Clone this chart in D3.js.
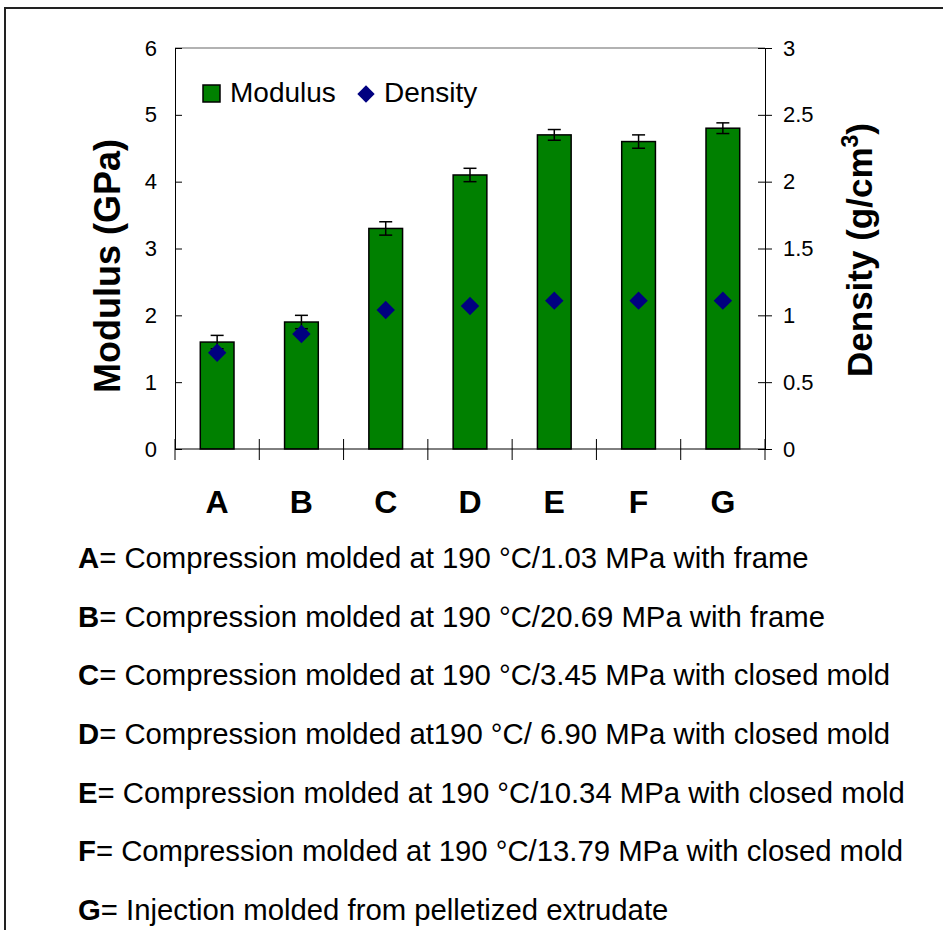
<!DOCTYPE html>
<html>
<head>
<meta charset="utf-8">
<script src="https://cdn.jsdelivr.net/npm/d3@7"></script>
<style>
  body { margin: 0; background: #fff; }
  svg { display: block; font-family: Arial, "Liberation Sans", sans-serif; }
</style>
</head>
<body>
<div id="chart"></div>
<script>
const categories = ['A', 'B', 'C', 'D', 'E', 'F', 'G'];
const modulus = [1.6, 1.9, 3.3, 4.1, 4.7, 4.6, 4.8]; // GPa
const modulusErr = [0.1, 0.1, 0.1, 0.1, 0.08, 0.1, 0.08];
const density = [0.72, 0.86, 1.04, 1.07, 1.11, 1.11, 1.11]; // g/cm3
const leftTicks = [0, 1, 2, 3, 4, 5, 6];
const rightTicks = [0, 0.5, 1, 1.5, 2, 2.5, 3];
const notes = [
    ['A', 'Compression molded at 190 °C/1.03 MPa with frame'],
    ['B', 'Compression molded at 190 °C/20.69 MPa with frame'],
    ['C', 'Compression molded at 190 °C/3.45 MPa with closed mold'],
    ['D', 'Compression molded at190 °C/ 6.90 MPa with closed mold'],
    ['E', 'Compression molded at 190 °C/10.34 MPa with closed mold'],
    ['F', 'Compression molded at 190 °C/13.79 MPa with closed mold'],
    ['G', 'Injection molded from pelletized extrudate']
];

const W = 943, H = 930;
const plot = { left: 175, right: 765, top: 48, bottom: 449 };

const svg = d3.select('#chart').append('svg')
    .attr('width', W)
    .attr('height', H);

// outer frame (left + top edges visible)
svg.append('path')
    .attr('d', `M5,${H} L5,8 L${W},8`)
    .attr('fill', 'none')
    .attr('stroke', '#222')
    .attr('stroke-width', 2);

const x = d3.scaleBand()
    .domain(categories)
    .range([plot.left, plot.right])
    .paddingInner(0.6)
    .paddingOuter(0.3);

const yL = d3.scaleLinear().domain([0, 6]).range([plot.bottom, plot.top]);
const yR = d3.scaleLinear().domain([0, 3]).range([plot.bottom, plot.top]);

// plot area top border
svg.append('line')
    .attr('x1', plot.left).attr('x2', plot.right)
    .attr('y1', plot.top).attr('y2', plot.top)
    .attr('stroke', '#999').attr('stroke-width', 1.5);

// bars
svg.append('g')
    .selectAll('rect')
    .data(modulus)
    .enter().append('rect')
    .attr('x', (d, i) => x(categories[i]))
    .attr('y', d => yL(d))
    .attr('width', x.bandwidth())
    .attr('height', d => yL(0) - yL(d))
    .attr('fill', '#008000')
    .attr('stroke', '#000')
    .attr('stroke-width', 1.5);

// error bars
const eb = svg.append('g').attr('stroke', '#000').attr('stroke-width', 1.5);
modulus.forEach((d, i) => {
    const cx = x(categories[i]) + x.bandwidth() / 2;
    const top = yL(d + modulusErr[i]), bot = yL(d - modulusErr[i]);
    eb.append('line').attr('x1', cx).attr('x2', cx).attr('y1', top).attr('y2', bot);
    eb.append('line').attr('x1', cx - 6.5).attr('x2', cx + 6.5).attr('y1', top).attr('y2', top);
    eb.append('line').attr('x1', cx - 6.5).attr('x2', cx + 6.5).attr('y1', bot).attr('y2', bot);
});

// density diamonds
const diamond = d3.symbol().type(d3.symbolSquare).size(170);
svg.append('g')
    .selectAll('path')
    .data(density)
    .enter().append('path')
    .attr('d', diamond)
    .attr('transform', (d, i) => `translate(${x(categories[i]) + x.bandwidth() / 2},${yR(d)}) rotate(45)`)
    .attr('fill', '#000080');

// left axis
const leftAxis = svg.append('g')
    .attr('transform', `translate(${plot.left},0)`)
    .call(d3.axisLeft(yL).tickValues(leftTicks).tickFormat(d => d)
        .tickSizeInner(7).tickSizeOuter(0).tickPadding(11));
leftAxis.selectAll('.tick line').attr('x2', 7);
leftAxis.selectAll('text')
    .attr('font-family', 'Arial, "Liberation Sans", sans-serif')
    .attr('font-size', 22).attr('fill', '#000');
leftAxis.select('.domain').attr('stroke', '#000');

// right axis
const rightAxis = svg.append('g')
    .attr('transform', `translate(${plot.right},0)`)
    .call(d3.axisRight(yR).tickValues(rightTicks).tickFormat(d => d)
        .tickSizeInner(7).tickSizeOuter(0).tickPadding(11));
rightAxis.selectAll('.tick line').attr('x2', 7).attr('x1', -7);
rightAxis.selectAll('text')
    .attr('font-family', 'Arial, "Liberation Sans", sans-serif')
    .attr('font-size', 22).attr('fill', '#000');
rightAxis.select('.domain').attr('stroke', '#000');

// bottom axis with boundary ticks between categories
const bottomAxis = svg.append('g')
    .attr('transform', `translate(0,${plot.bottom})`);
bottomAxis.append('line')
    .attr('x1', plot.left).attr('x2', plot.right)
    .attr('stroke', '#000');
const bounds = d3.range(categories.length + 1).map(i => plot.left + i * (plot.right - plot.left) / categories.length);
bottomAxis.selectAll('.bt')
    .data(bounds)
    .enter().append('line')
    .attr('x1', d => d).attr('x2', d => d)
    .attr('y1', -10).attr('y2', 11)
    .attr('stroke', '#000');
bottomAxis.selectAll('.cat')
    .data(categories)
    .enter().append('text')
    .attr('x', d => x(d) + x.bandwidth() / 2)
    .attr('y', 64)
    .attr('text-anchor', 'middle')
    .style('font-size', '32px')
    .style('font-weight', 'bold')
    .text(d => d);

// axis titles
svg.append('text')
    .attr('transform', 'translate(120,266) rotate(-90)')
    .attr('text-anchor', 'middle')
    .style('font-size', '36px')
    .style('font-weight', 'bold')
    .text('Modulus (GPa)');

const rt = svg.append('text')
    .attr('transform', 'translate(872,250) rotate(-90)')
    .attr('text-anchor', 'middle')
    .style('font-size', '35px')
    .style('font-weight', 'bold');
rt.append('tspan').text('Density (g/cm');
rt.append('tspan').attr('dy', -14).style('font-size', '23px').text('3');
rt.append('tspan').attr('dy', 14).text(')');

// legend
const legend = svg.append('g').attr('transform', 'translate(203,85)');
legend.append('rect')
    .attr('width', 17).attr('height', 17)
    .attr('fill', '#008000').attr('stroke', '#000').attr('stroke-width', 1.5);
legend.append('text')
    .attr('x', 27).attr('y', 17)
    .style('font-size', '28px')
    .text('Modulus');
legend.append('path')
    .attr('d', d3.symbol().type(d3.symbolSquare).size(150))
    .attr('transform', 'translate(163,9) rotate(45)')
    .attr('fill', '#000080');
legend.append('text')
    .attr('x', 181).attr('y', 17)
    .style('font-size', '28px')
    .text('Density');

// sample notes
const noteY = d3.scalePoint().domain(categories).range([568, 920]);
const nt = svg.append('g').selectAll('text')
    .data(notes)
    .enter().append('text')
    .attr('x', 78)
    .attr('y', d => noteY(d[0]))
    .style('font-size', '29.3px');
nt.append('tspan').style('font-weight', 'bold').text(d => d[0]);
nt.append('tspan').text(d => '= ' + d[1]);
</script>
</body>
</html>
